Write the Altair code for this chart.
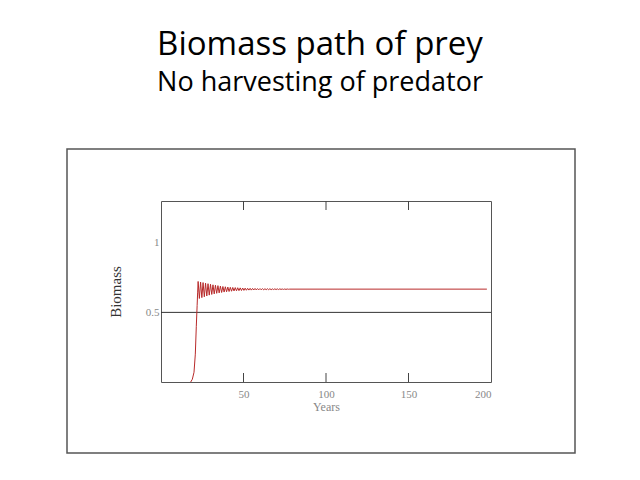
import altair as alt
import pandas as pd

# ---- data ----
years = [18.0, 19.0, 20.0, 20.8, 21.4, 21.9, 22.2,
         22.5, 23.25, 24.0, 24.75, 25.5, 26.25, 27.0, 27.75, 28.5, 29.25,
         30.0, 30.75, 31.5, 32.25, 33.0, 33.75, 34.5, 35.25, 36.0, 36.75,
         37.5, 38.25, 39.0, 39.75, 40.5, 41.25, 42.0, 42.75, 43.5, 44.25,
         45.0, 45.75, 46.5, 47.25, 48.0, 48.75, 49.5, 50.25, 51.0, 51.75,
         52.5, 53.25, 54.0, 54.75, 55.5, 56.25, 57.0, 57.75, 58.5, 59.25,
         60.0, 60.75, 61.5, 62.25, 63.0, 63.75, 64.5, 65.25, 66.0, 66.75,
         67.5, 68.25, 69.0, 69.75, 70.5, 71.25, 72.0, 72.75, 73.5, 74.25,
         75.0, 75.75, 76.5, 77.25, 78.0, 197.5]
biomass = [0.0, 0.02, 0.07, 0.2, 0.4, 0.55, 0.64,
           0.722, 0.600, 0.718, 0.606, 0.714, 0.612, 0.710, 0.618, 0.706, 0.624,
           0.702, 0.629, 0.698, 0.633, 0.695, 0.637, 0.692, 0.640, 0.689, 0.643,
           0.686, 0.646, 0.684, 0.648, 0.682, 0.650, 0.680, 0.652, 0.679, 0.654,
           0.678, 0.655, 0.677, 0.656, 0.676, 0.657, 0.675, 0.658, 0.674, 0.659,
           0.673, 0.660, 0.673, 0.660, 0.672, 0.661, 0.672, 0.661, 0.671, 0.662,
           0.671, 0.662, 0.671, 0.662, 0.670, 0.663, 0.670, 0.663, 0.670, 0.663,
           0.669, 0.664, 0.669, 0.664, 0.669, 0.664, 0.669, 0.665, 0.668, 0.665,
           0.668, 0.665, 0.668, 0.666, 0.667, 0.667]
x_ticks = [50, 100, 150, 200]
inner_ticks = [50, 100, 150]
y_ticks = [0.5, 1]
ref_level = [0.5]

W, H = 330, 181

df = pd.DataFrame({"year": years, "biomass": biomass})

xs = alt.Scale(domain=[0, 200], nice=False)
ys = alt.Scale(domain=[0, 1.3], nice=False)

line = alt.Chart(df).mark_line(color="#b82a2a", strokeWidth=1).encode(
    x=alt.X("year:Q", scale=xs,
            axis=alt.Axis(values=x_ticks, title="Years", ticks=False, domain=False,
                          grid=False, labelFont="Liberation Serif", labelFontSize=11,
                          labelColor="#888888", labelPadding=6,
                          titleFont="Liberation Serif", titleFontSize=12,
                          titleFontWeight="normal", titleColor="#888888", titlePadding=2)),
    y=alt.Y("biomass:Q", scale=ys,
            axis=alt.Axis(values=y_ticks, title="Biomass", ticks=False, domain=False,
                          grid=False, labelExpr="'' + datum.value",
                          labelFont="Liberation Serif", labelFontSize=11,
                          labelColor="#888888", labelPadding=2,
                          titleFont="Liberation Serif", titleFontSize=15,
                          titleFontWeight="normal", titleColor="#333333", titlePadding=22)),
)

hline = alt.Chart(pd.DataFrame({"v": ref_level})).mark_rule(color="#333333", strokeWidth=1).encode(
    y=alt.Y("v:Q", scale=ys)
)

tdf = pd.DataFrame({"t": inner_ticks})
bottom_ticks = alt.Chart(tdf).mark_rule(color="#444444", strokeWidth=1).encode(
    x=alt.X("t:Q", scale=xs), y=alt.value(H - 9), y2=alt.value(H)
)
top_ticks = alt.Chart(tdf).mark_rule(color="#444444", strokeWidth=1).encode(
    x=alt.X("t:Q", scale=xs), y=alt.value(0), y2=alt.value(9)
)

frame = alt.Chart(pd.DataFrame({"f": [0]})).mark_rect(
    fill=None, stroke="#555555", strokeWidth=1.5
).encode(
    x=alt.value(-94), x2=alt.value(414), y=alt.value(-52), y2=alt.value(252)
)

chart = alt.layer(frame, hline, line, bottom_ticks, top_ticks).properties(
    width=W, height=H,
    title=alt.TitleParams(
        text="Biomass path of prey",
        subtitle="No harvesting of predator",
        font="Open Sans", fontSize=33, fontWeight="normal", color="#000000",
        subtitleFont="Open Sans", subtitleFontSize=27, subtitleColor="#000000",
        subtitlePadding=8, anchor="middle", dx=-6, offset=52,
    ),
    padding={"left": 161, "top": 201, "right": 149, "bottom": 98},
    autosize=alt.AutoSizeParams(type="none"),
).configure_view(stroke="#555555", strokeWidth=1)

chart.save("out.html", embed_options={"renderer": "svg", "actions": False})
